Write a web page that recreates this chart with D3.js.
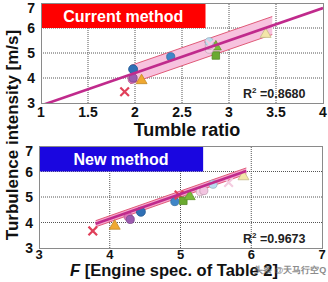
<!DOCTYPE html>
<html><head><meta charset="utf-8">
<script src="https://cdn.jsdelivr.net/npm/d3@7"></script>
<style>body{margin:0;background:#fff}svg{display:block}text{font-family:"Liberation Sans",Arial,sans-serif;font-weight:bold}</style>
</head><body>
<svg id="c" width="328" height="282"></svg>
<script>
// ---- data ----
const xTicksTop = [1, 1.5, 2, 2.5, 3, 3.5, 4];
const xTickLabelsTop = ["1", "1.5", "2", "2.5", "3", "3.5", "4"];
const xTicksBottom = [3, 4, 5, 6, 7];
const yTicks = [3, 4, 5, 6, 7];
// engines (marker shape / colour pairs)
const shapes = ["x", "circle", "circle", "hex", "tri", "circle", "x", "square", "tri", "circle", "circle", "circle", "x", "tri"];
const colors = ["#e0405a", "#e070b8", "#9c5bb0", "#2f6fb5", "#f0a830", "#3f86c8", "#e0405a", "#6aaa30", "#7ab83a", "#f6d0e6", "#f2c4e0", "#b8dcf0", "#f4cce0", "#f3e6a8"];
// current method: tumble ratio vs turbulence intensity
const tumbleRatio = [1.89, 1.97, 1.98, 1.98, 2.07, 2.38, 2.79, 2.86, 2.86, 2.79, 2.79, 2.79, 2.8, 3.39];
const turbTop = [3.45, 3.95, 4.0, 4.35, 3.9, 4.85, 5.3, 4.9, 5.25, 5.15, 5.3, 5.45, 5.35, 5.75];
// new method: F vs turbulence intensity
const fValue = [3.76, 4.26, 4.29, 4.44, 4.07, 4.92, 4.98, 5.04, 5.13, 5.28, 5.33, 5.46, 5.68, 5.89];
const turbBottom = [3.67, 4.23, 4.12, 4.42, 3.86, 4.82, 5.08, 4.85, 5.02, 5.21, 5.25, 5.5, 5.57, 5.8];
// regression fits and bands
const fitTop = {slope: 1.3, intercept: 1.6, bandHalf: 0.36, bandFrom: 1.95, bandTo: 3.46, lineFrom: 1, lineTo: 4};
const fitBottom = {slope: 0.972, intercept: 0.256, bandHalf: 0.12, bandFrom: 3.8, bandTo: 5.93, lineFrom: 3.8, lineTo: 5.93};
const r2Top = "0.8680", r2Bottom = "0.9673";

const svg = d3.select("#c");

function panel(opt) {
  const x = d3.scaleLinear().domain(opt.xDomain).range(opt.xRange);
  const y = d3.scaleLinear().domain([3, 7]).range(opt.yRange);
  const g = svg.append("g");
  const clipId = "clip" + opt.id;
  svg.append("clipPath").attr("id", clipId).append("rect")
    .attr("x", opt.xRange[0]).attr("y", opt.yRange[1])
    .attr("width", opt.xRange[1] - opt.xRange[0]).attr("height", opt.yRange[0] - opt.yRange[1]);
  // grid
  g.selectAll(".gx").data(opt.xTicks.slice(1, -1)).join("line")
    .attr("x1", d => x(d)).attr("x2", d => x(d)).attr("y1", opt.yRange[0]).attr("y2", opt.yRange[1])
    .attr("stroke", "#555").attr("stroke-width", 1).attr("stroke-dasharray", "1,1");
  g.selectAll(".gy").data(yTicks.slice(1, -1)).join("line")
    .attr("y1", d => y(d)).attr("y2", d => y(d)).attr("x1", opt.xRange[0]).attr("x2", opt.xRange[1])
    .attr("stroke", "#555").attr("stroke-width", 1).attr("stroke-dasharray", "1,1");
  // label box
  g.append("rect").attr("x", x(opt.xDomain[0])).attr("y", y(7))
    .attr("width", x(opt.boxTo) - x(opt.xDomain[0])).attr("height", y(6) - y(7))
    .attr("fill", opt.boxColor);
  g.append("text").attr("x", (x(opt.xDomain[0]) + x(opt.boxTo)) / 2).attr("y", (y(6) + y(7)) / 2 + 6)
    .attr("text-anchor", "middle").attr("fill", "#fff").attr("font-size", 16).text(opt.boxLabel);
  // frame
  g.append("rect").attr("x", opt.xRange[0] + 0.5).attr("y", opt.yRange[1] + 0.5)
    .attr("width", opt.xRange[1] - opt.xRange[0]).attr("height", opt.yRange[0] - opt.yRange[1])
    .attr("fill", "none").attr("stroke", "#8a8a8a").attr("stroke-width", 1);
  // band
  const f = opt.fit;
  const fx = v => f.slope * v + f.intercept;
  const bandPts = [[f.bandFrom, fx(f.bandFrom) + f.bandHalf], [f.bandTo, fx(f.bandTo) + f.bandHalf],
                   [f.bandTo, fx(f.bandTo) - f.bandHalf], [f.bandFrom, fx(f.bandFrom) - f.bandHalf]];
  const gc = g.append("g").attr("clip-path", `url(#${clipId})`);
  gc.append("path").attr("d", "M" + bandPts.map(p => [x(p[0]), y(p[1])].join(",")).join("L") + "Z")
    .attr("fill", opt.bandFill);
  [1, -1].forEach(s => {
    gc.append("line").attr("x1", x(f.bandFrom)).attr("x2", x(f.bandTo))
      .attr("y1", y(fx(f.bandFrom) + s * f.bandHalf)).attr("y2", y(fx(f.bandTo) + s * f.bandHalf))
      .attr("stroke", "#e05a78").attr("stroke-width", 1);
  });
  // points
  const sym = {
    circle: d3.symbol().type(d3.symbolCircle).size(52),
    hex: d3.symbol().type(d3.symbolCircle).size(64),
    tri: d3.symbol().type(d3.symbolTriangle).size(52),
    square: d3.symbol().type(d3.symbolSquare).size(56),
    x: d3.symbol().type(d3.symbolTimes).size(50)
  };
  opt.xs.forEach((xv, i) => {
    const s = shapes[i];
    const p = gc.append("path").attr("d", sym[s]()).attr("transform", `translate(${x(xv)},${y(opt.ys[i])})`);
    if (s === "x") p.attr("fill", "none").attr("stroke", colors[i]).attr("stroke-width", 2.2);
    else p.attr("fill", colors[i]).attr("stroke", d3.color(colors[i]).darker(0.6)).attr("stroke-width", 0.8);
  });
  // regression line
  gc.append("line").attr("x1", x(f.lineFrom)).attr("x2", x(f.lineTo))
    .attr("y1", y(fx(f.lineFrom))).attr("y2", y(fx(f.lineTo)))
    .attr("stroke", "#c02a8c").attr("stroke-width", 2.6);
  // tick labels
  g.selectAll(".tx").data(opt.xTicks).join("text")
    .attr("x", d => x(d)).attr("y", opt.yRange[0] + opt.tickOff).attr("text-anchor", "middle")
    .attr("font-size", opt.tickSize).attr("fill", "#111").text((d, i) => opt.xLabels[i]);
  g.selectAll(".ty").data(yTicks).join("text")
    .attr("x", opt.xRange[0] - 6).attr("y", d => Math.max(y(d) + 5, opt.yRange[1] + 9.5)).attr("text-anchor", "end")
    .attr("font-size", 14).attr("fill", "#111").text(d => d);
  // R2
  const r = g.append("text").attr("x", 243).attr("y", y(3.35) + 4).attr("font-size", 12.5).attr("fill", "#222");
  r.append("tspan").text("R");
  r.append("tspan").attr("font-size", 8).attr("dy", -5).text("2");
  r.append("tspan").attr("dy", 5).text(" =" + opt.r2);
  return {x, y};
}

panel({id: "t", xDomain: [1, 4], xRange: [41, 323], yRange: [103, 3], xTicks: xTicksTop, xLabels: xTickLabelsTop,
  boxTo: 2.75, boxColor: "#ff0000", boxLabel: "Current method", bandFill: "#f7c2de", fit: fitTop,
  xs: tumbleRatio, ys: turbTop, r2: r2Top, tickOff: 13.5, tickSize: 14});
panel({id: "b", xDomain: [3, 7], xRange: [39, 322], yRange: [248, 146], xTicks: xTicksBottom, xLabels: xTicksBottom.map(String),
  boxTo: 5.32, boxColor: "#1a06e0", boxLabel: "New method", bandFill: "#f7a8cf", fit: fitBottom,
  xs: fValue, ys: turbBottom, r2: r2Bottom, tickOff: 10.5, tickSize: 13});

// axis titles
svg.append("text").attr("x", 187).attr("y", 136).attr("text-anchor", "middle").attr("font-size", 18).attr("fill", "#111").text("Tumble ratio");
const bt = svg.append("text").attr("x", 174).attr("y", 275.5).attr("text-anchor", "middle").attr("font-size", 16.5).attr("fill", "#111");
bt.append("tspan").attr("font-style", "italic").text("F");
bt.append("tspan").text(" [Engine spec. of Table 2]");
svg.append("text").attr("transform", "translate(18,135) rotate(-90)").attr("text-anchor", "middle")
  .attr("font-size", 17).attr("fill", "#111").text("Turbulence intensity [m/s]");
// watermark
svg.append("text").attr("x", 254).attr("y", 273).attr("font-size", 9).attr("font-weight", "normal")
  .attr("font-family", "Noto Sans CJK SC").attr("fill", "#666").attr("opacity", 0.75).text("头条 @天马行空Q");
</script>
</body></html>
